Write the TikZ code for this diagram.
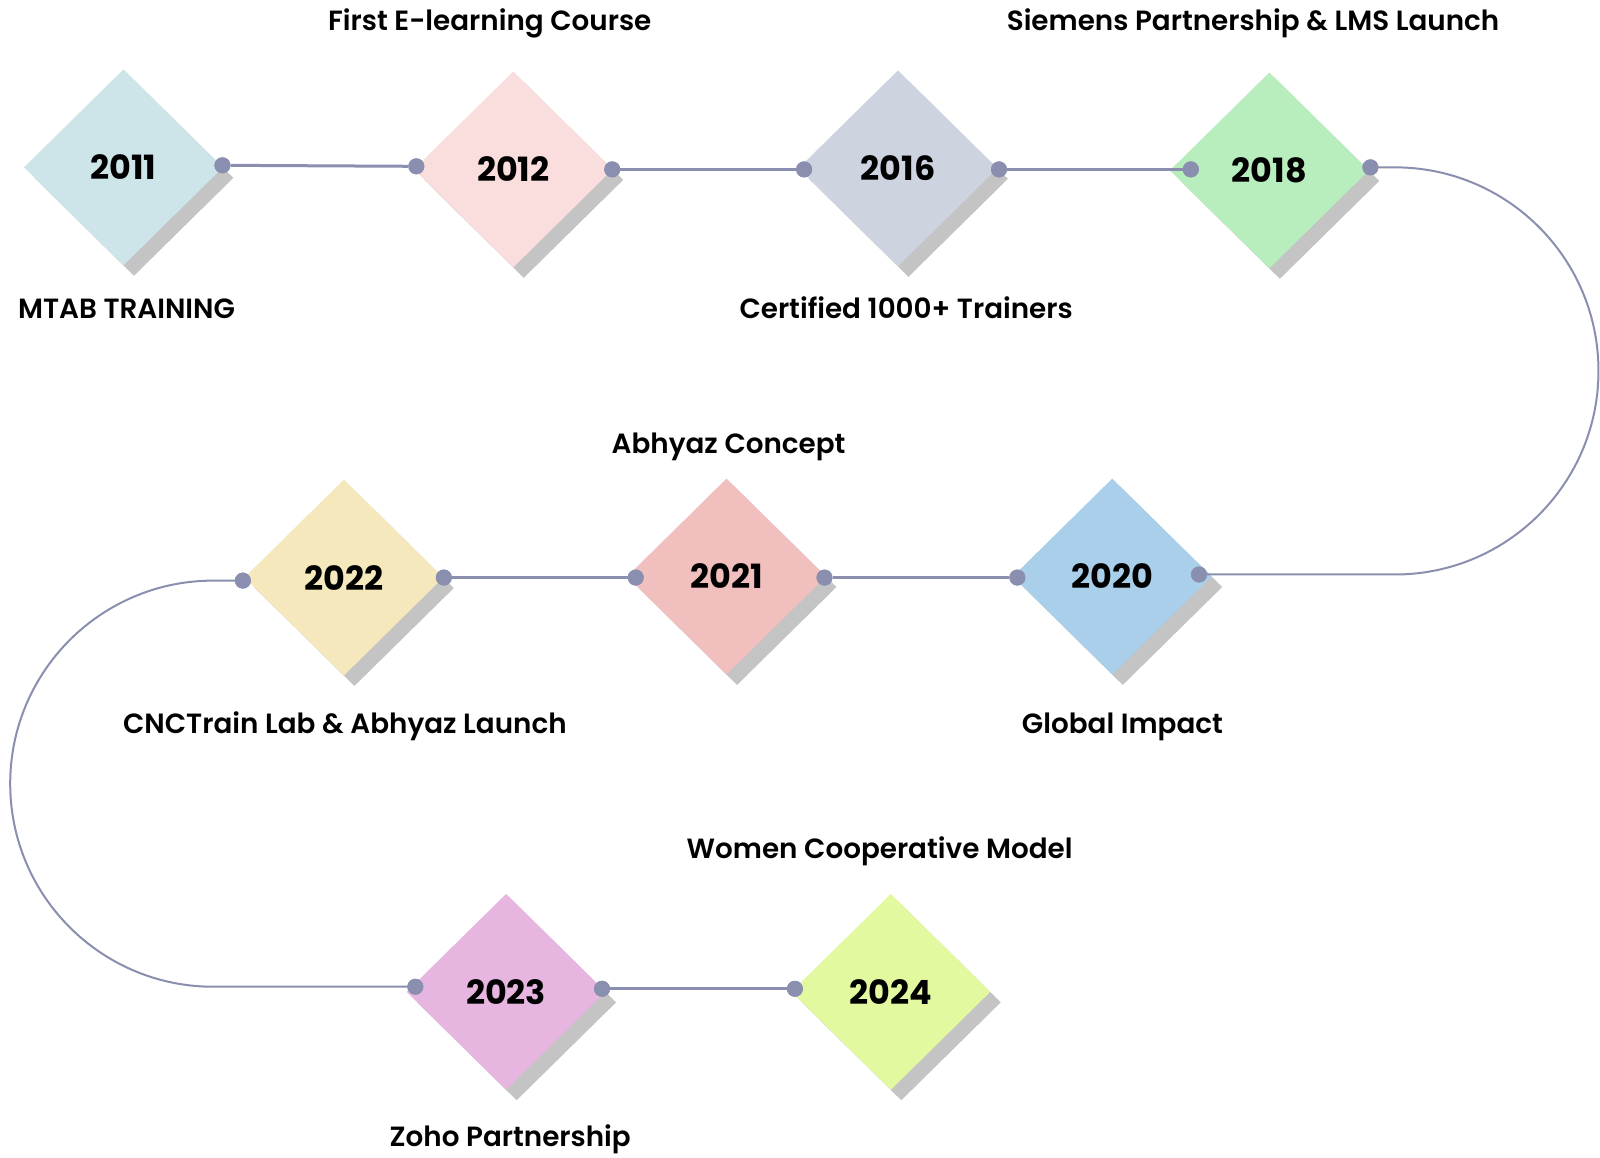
\documentclass[tikz,border=0pt]{standalone}
\usepackage{fontspec}
\setmainfont{Poppins}[UprightFont=* SemiBold, BoldFont=* Bold]
\usetikzlibrary{shapes.geometric,shadows}
\definecolor{lineC}{HTML}{8A8FB0}
\definecolor{shadowC}{HTML}{C4C4C4}
\definecolor{c2011}{HTML}{CDE4E8}
\definecolor{c2012}{HTML}{FADEDE}
\definecolor{c2016}{HTML}{CDD3DF}
\definecolor{c2018}{HTML}{B8EDBD}
\definecolor{c2020}{HTML}{A9CFEA}
\definecolor{c2021}{HTML}{F2BFBF}
\definecolor{c2022}{HTML}{F5E8BD}
\definecolor{c2023}{HTML}{E6B6E0}
\definecolor{c2024}{HTML}{E3F9A0}
\begin{document}
\begin{tikzpicture}[x=1.0204pt,y=-1.0204pt,
  yearbox/.style={diamond, minimum width=199pt, minimum height=196pt, inner sep=0pt,
    fill=#1, drop shadow={shadow xshift=10.5pt, shadow yshift=-10.5pt, fill=shadowC, opacity=1},
    font=\bfseries\fontsize{33.4}{33.4}\selectfont},
  tdot/.style={circle, fill=lineC, minimum size=16pt, inner sep=0pt},
  conn/.style={draw=lineC, line width=3pt},
  curveconn/.style={draw=lineC, line width=2pt},
  lbl/.style={anchor=base, inner sep=0pt, font=\fontsize{27.8}{32}\selectfont}]
\useasboundingbox (0,0) rectangle (1568,1134.8);
\fill[white] (0,0) rectangle (1568,1134.8);

% diamonds
\node[yearbox=c2011] (y2011) at (121,164) {2011};
\node[yearbox=c2012] (y2012) at (503,166) {2012};
\node[yearbox=c2016] (y2016) at (880,165) {2016};
\node[yearbox=c2018] (y2018) at (1244,167) {2018};
\node[yearbox=c2020] (y2020) at (1090,565) {2020};
\node[yearbox=c2021] (y2021) at (712,565) {2021};
\node[yearbox=c2022] (y2022) at (337,566) {2022};
\node[yearbox=c2023] (y2023) at (496,972) {2023};
\node[yearbox=c2024] (y2024) at (873,972) {2024};

% dots
\node[tdot] (d1) at (218,162) {};
\node[tdot] (d2) at (408,163) {};
\node[tdot] (d3) at (600,166) {};
\node[tdot] (d4) at (788,166) {};
\node[tdot] (d5) at (979,166) {};
\node[tdot] (d6) at (1167,166) {};
\node[tdot] (d7) at (1343,164) {};
\node[tdot] (d8) at (1175,563) {};
\node[tdot] (d9) at (997,566) {};
\node[tdot] (d10) at (808,566) {};
\node[tdot] (d11) at (623,566) {};
\node[tdot] (d12) at (435,566) {};
\node[tdot] (d13) at (238,569) {};
\node[tdot] (d14) at (407,967) {};
\node[tdot] (d15) at (590,969) {};
\node[tdot] (d16) at (779,969) {};

\coordinate (cr1) at (1367,164);
\coordinate (cl1) at (209,569);

% connectors
\path[conn] (d1) -- (d2);
\path[conn] (d3) -- (d4);
\path[conn] (d5) -- (d6);
\path[curveconn] (d7.center) -- (cr1) arc[start angle=-90, end angle=90, radius=199.5] -- (d8.center);
\path[conn] (d9) -- (d10);
\path[conn] (d11) -- (d12);
\path[curveconn] (d13.center) -- (cl1) arc[start angle=-90, end angle=-270, radius=199] -- (d14.center);
\path[conn] (d15) -- (d16);
\foreach \d in {d1,d2,d3,d4,d5,d6,d7,d8,d9,d10,d11,d12,d13,d14,d15,d16}
  \fill[lineC] (\d) circle[radius=8pt];

% labels
\node[lbl] (l2012) at (480,30) {First E-learning Course};
\node[lbl] (l2018) at (1228,30) {Siemens Partnership \& LMS Launch};
\node[lbl] (l2011) at (124,312) {MTAB TRAINING};
\node[lbl] (l2016) at (888,312) {Certified 1000+ Trainers};
\node[lbl] (l2021) at (714,444) {Abhyaz Concept};
\node[lbl] (l2022) at (338,719) {CNCTrain Lab \& Abhyaz Launch};
\node[lbl] (l2020) at (1100,719) {Global Impact};
\node[lbl] (l2024) at (862,841) {Women Cooperative Model};
\node[lbl] (l2023) at (500,1124) {Zoho Partnership};
\end{tikzpicture}
\end{document}
